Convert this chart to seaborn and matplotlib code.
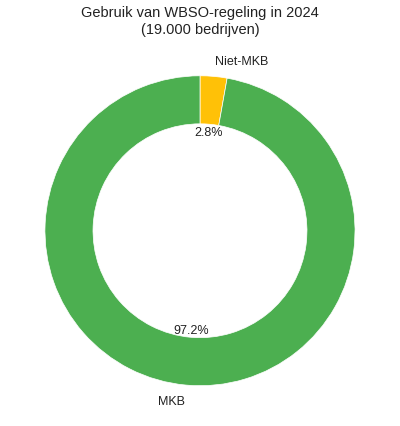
import matplotlib
matplotlib.use("Agg")
import matplotlib.pyplot as plt
import seaborn as sns

sns.set_theme(style="white")
plt.rcParams['font.family'] = ['Liberation Sans', 'DejaVu Sans']

labels = ["Niet-MKB", "MKB"]
values = [2.8, 97.2]
colors = ["#FFC107", "#4CAF50"]

fig = plt.figure(figsize=(4, 4.27), dpi=100)
ax = fig.add_axes([0, 0, 1, 0.9])
ax.pie(values, labels=labels, colors=colors, autopct="%1.1f%%", startangle=90,
       counterclock=False, pctdistance=0.64, labeldistance=1.1,
       wedgeprops=dict(width=0.31, edgecolor="white", linewidth=0.5),
       textprops=dict(fontsize=9, color="#222222"))
ax.set_aspect("equal", adjustable="datalim")
ax.set_xlim(-1.29, 1.29)
ax.set_ylim(-1.26, 1.22)
fig.suptitle("Gebruik van WBSO-regeling in 2024\n(19.000 bedrijven)", fontsize=10.5,
             color="#222222", y=0.985)
fig.savefig("out.png", dpi=100)
